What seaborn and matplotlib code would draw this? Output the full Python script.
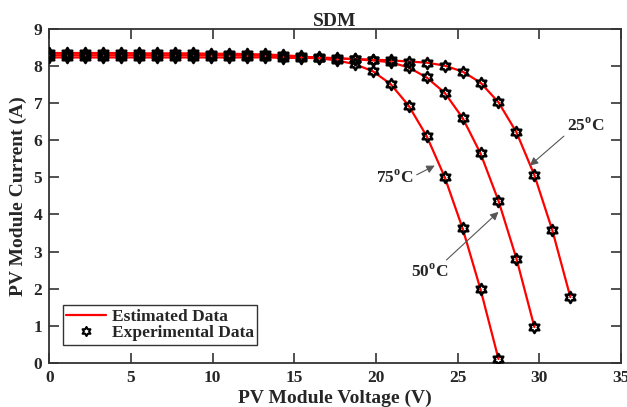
import numpy as np
import pandas as pd
import matplotlib
matplotlib.use("Agg")
import matplotlib.pyplot as plt
from matplotlib.path import Path
from matplotlib.lines import Line2D
import seaborn as sns

# Measured / fitted I-V points of the PV module (single diode model)
voltage = [0.0, 1.1, 2.2, 3.3, 4.4, 5.5, 6.6, 7.7, 8.8, 9.9,
           11.0, 12.1, 13.2, 14.3, 15.4, 16.5, 17.6, 18.7, 19.8, 20.9,
           22.0, 23.1, 24.2, 25.3, 26.4, 27.5, 28.6, 29.7, 30.8, 31.9]

current_25c = [8.24, 8.24, 8.24, 8.24, 8.24, 8.24, 8.24, 8.24, 8.24, 8.24,
               8.24, 8.24, 8.24, 8.23, 8.23, 8.22, 8.21, 8.20, 8.18, 8.16,
               8.13, 8.10, 8.02, 7.86, 7.56, 7.03, 6.22, 5.06, 3.57, 1.77]

current_50c = [8.30, 8.30, 8.30, 8.30, 8.30, 8.30, 8.30, 8.30, 8.30, 8.30,
               8.30, 8.29, 8.29, 8.27, 8.26, 8.24, 8.22, 8.19, 8.16, 8.11,
               7.97, 7.70, 7.29, 6.61, 5.65, 4.37, 2.81, 0.96]

current_75c = [8.36, 8.36, 8.36, 8.36, 8.36, 8.35, 8.35, 8.35, 8.35, 8.34,
               8.34, 8.33, 8.32, 8.30, 8.27, 8.22, 8.16, 8.06, 7.87, 7.52,
               6.94, 6.12, 5.02, 3.63, 1.98, 0.10]

temperatures = ["25", "50", "75"]
series = [current_25c, current_50c, current_75c]

rows = []
for t, cur in zip(temperatures, series):
    for v, i in zip(voltage[:len(cur)], cur):
        rows.append({"T": t, "V": v, "I": i})
df = pd.DataFrame(rows)

sns.set_theme(style="ticks")
serif = ["Liberation Serif", "DejaVu Serif"]
plt.rcParams["font.family"] = serif
plt.rcParams["font.weight"] = "bold"
plt.rcParams["mathtext.fontset"] = "custom"
plt.rcParams["mathtext.rm"] = "Liberation Serif:bold"
plt.rcParams["mathtext.bf"] = "Liberation Serif:bold"

hexagram = Path.unit_regular_star(6, 0.577)

fig = plt.figure(figsize=(6.27, 4.07), dpi=100)
ax = fig.add_axes([0.0786, 0.109, 0.9118, 0.819])

for t in temperatures:
    sub = df[df["T"] == t]
    sns.lineplot(data=sub, x="V", y="I", color="#ff0000", linewidth=1.6,
                 estimator=None, sort=False, ax=ax, legend=False, zorder=2)
    ax.plot(sub["V"], sub["I"], linestyle="none", marker=hexagram,
            markersize=8, markerfacecolor="none", markeredgecolor="black",
            markeredgewidth=1.8, zorder=3)

ax.set_xlim(0, 35)
ax.set_ylim(0, 9)
ax.set_xticks(range(0, 36, 5))
ax.set_yticks(range(0, 10))
ax.tick_params(direction="in", length=7, width=1.2, color="#333333",
               top=True, right=True, labelsize=12.5, pad=5)
for lbl in ax.get_xticklabels() + ax.get_yticklabels():
    lbl.set_fontweight("bold")
for sp in ax.spines.values():
    sp.set_color("#333333")
    sp.set_linewidth(1.3)

ax.set_xlabel("PV Module Voltage (V)", fontsize=14, fontweight="bold", labelpad=3)
ax.set_ylabel("PV Module Current (A)", fontsize=14, fontweight="bold", labelpad=5)
ax.set_title("SDM", fontsize=14, fontweight="heavy", pad=2.5)

arrow = dict(arrowstyle="-|>", color="#555555", lw=0.8, mutation_scale=12,
             shrinkA=0, shrinkB=0)
ax.annotate(r"25$^{\mathrm{o}}$C", xy=(29.42, 5.32), xytext=(32.85, 6.38),
            fontsize=12.5, fontweight="bold", ha="center", va="center",
            arrowprops=dict(arrow, relpos=(0.0, 0.1)))
ax.annotate(r"75$^{\mathrm{o}}$C", xy=(23.6, 5.32), xytext=(21.15, 4.98),
            fontsize=12.5, fontweight="bold", ha="center", va="center",
            arrowprops=dict(arrow, relpos=(1.0, 0.6)))
ax.annotate(r"50$^{\mathrm{o}}$C", xy=(27.5, 4.07), xytext=(23.3, 2.45),
            fontsize=12.5, fontweight="bold", ha="center", va="center",
            arrowprops=dict(arrow, relpos=(0.85, 1.0)))

handles = [
    Line2D([], [], color="#ff0000", linewidth=1.6),
    Line2D([], [], linestyle="none", marker=hexagram, markersize=6.5,
           markerfacecolor="white", markeredgecolor="black", markeredgewidth=1.5),
]
leg = ax.legend(handles, ["Estimated Data", "Experimental Data"],
                loc="lower left", bbox_to_anchor=(0.024, 0.053),
                prop={"family": serif, "weight": "bold", "size": 12.5},
                frameon=True, fancybox=False, framealpha=1,
                edgecolor="#333333", handlelength=2.3, handletextpad=0.3,
                borderpad=0.2, labelspacing=0.02, borderaxespad=0)
leg.get_frame().set_linewidth(1.0)

fig.savefig("out.png", dpi=100)
